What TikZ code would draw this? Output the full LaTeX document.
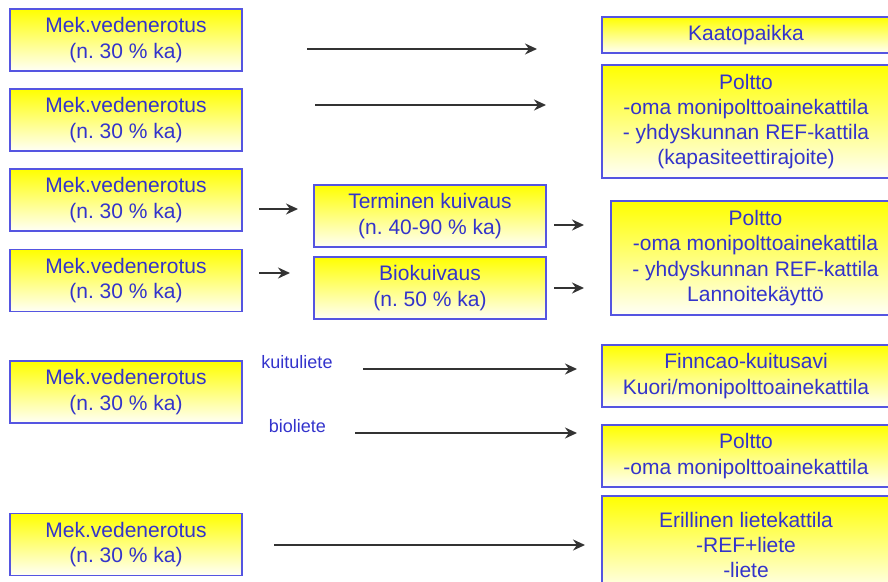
\documentclass[tikz,border=0pt]{standalone}
\usepackage{fontspec}
\setmainfont{Liberation Sans}
\usetikzlibrary{arrows.meta}
\definecolor{txtblue}{RGB}{51,51,204}
\definecolor{boxblue}{RGB}{85,85,225}
\frenchspacing
\begin{document}
\begin{tikzpicture}[x=0.5pt, y=-0.5pt, >={Stealth[length=6pt,width=5.5pt]},
    box/.style={draw=boxblue, line width=0.75pt, top color=yellow, middle color=yellow!40!white,
        bottom color=yellow!3!white, text=txtblue, align=center, inner sep=0pt,
        font=\fontsize{10.5}{12.6}\selectfont},
    lbl/.style={text=txtblue, inner sep=0pt, font=\fontsize{9}{11}\selectfont},
    flow/.style={->, line width=0.8pt, draw=black!80}]
    \clip (0,0) rectangle (888,582);
    \foreach \y [count=\i] in {40,120,200,280.5,392,544.5}
        \node[box, minimum width=116pt, minimum height=31pt] (mek\i) at (126,\y) {Mek.vedenerotus\\(n. 30 \% ka)};
    \node[box, minimum width=116pt, minimum height=31pt] (term) at (430,216) {Terminen kuivaus\\(n. 40-90 \% ka)};
    \node[box, minimum width=116pt, minimum height=31pt] (bio) at (430,288) {Biokuivaus\\(n. 50 \% ka)};
    \node[box, minimum width=144pt, minimum height=18pt] (kaato) at (746,35) {Kaatopaikka};
    \node[box, minimum width=144pt, minimum height=56.5pt] (poltto1) at (746,121.5) {Poltto\\-oma monipolttoainekattila\\- yhdyskunnan REF-kattila\\(kapasiteettirajoite)};
    \node[box, minimum width=144.5pt, minimum height=57pt] (poltto2) at (755.5,258) {Poltto\\-oma monipolttoainekattila\\- yhdyskunnan REF-kattila\\Lannoitekäyttö};
    \node[box, minimum width=144pt, minimum height=31pt] (finncao) at (746,376) {Finncao-kuitusavi\\Kuori/monipolttoainekattila};
    \node[box, minimum width=144pt, minimum height=31pt] (poltto3) at (746,456) {Poltto\\-oma monipolttoainekattila};
    \node[box, minimum width=144pt, minimum height=49pt] (erill) at (746,545) {Erillinen lietekattila\\-REF+liete\\-liete};
    \node[lbl] (kuitu) at (297,362) {kuituliete};
    \node[lbl] (bioliete) at (297.5,426) {bioliete};
    \foreach \n/\xa/\xb/\y in {1/307/537/49, 2/315/546/105, 3/259/298/209, 4/259/290/273, 5/554/584/225,
            6/554/584/288, 7/363/577/369, 8/355/577/433, 9/274/585/545} {
        \coordinate (s\n) at (\xa,\y);
        \coordinate (e\n) at (\xb,\y);
        \draw[flow] (s\n) -- (e\n);
    }
\end{tikzpicture}
\end{document}
